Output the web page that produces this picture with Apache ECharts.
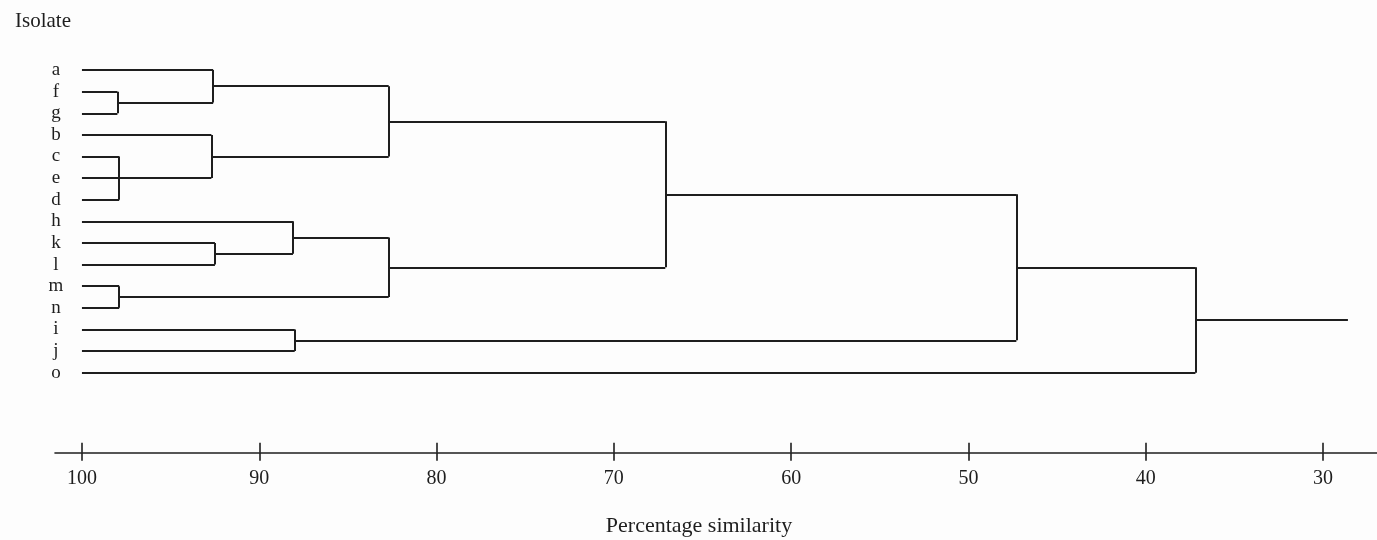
<!DOCTYPE html>
<html>
<head>
<meta charset="utf-8">
<title>Dendrogram of isolates</title>
<script src="https://cdn.jsdelivr.net/npm/echarts@6/dist/echarts.min.js"></script>
<style>
  html, body { margin: 0; padding: 0; background: #fdfdfd; }
  #chart { width: 1377px; height: 540px; }
</style>
</head>
<body>
<div id="chart"></div>
<script>
// Isolates in the order they appear down the tree
const leaves = ['a', 'f', 'g', 'b', 'c', 'e', 'd', 'h', 'k', 'l', 'm', 'n', 'i', 'j', 'o'];

// Cluster joins: name of the new cluster, its members, and the similarity (%) at which they join
const mergeNames    = ['fg', 'afg', 'ced', 'bced', 'top', 'kl', 'hkl', 'mn', 'bottom', 'core', 'ij', 'coreij', 'all'];
const mergeChildren = [
  ['f', 'g'], ['a', 'fg'], ['c', 'e', 'd'], ['b', 'ced'], ['afg', 'bced'],
  ['k', 'l'], ['h', 'kl'], ['m', 'n'], ['hkl', 'mn'], ['top', 'bottom'],
  ['i', 'j'], ['core', 'ij'], ['coreij', 'o']
];
const mergeLevels = [98.0, 92.6, 97.9, 92.7, 82.7, 92.5, 88.1, 97.9, 82.7, 67.1, 88.0, 47.3, 37.2];
const rootStem = 28.6;   // where the root branch ends

// Axis ticks
const tickValues = [100, 90, 80, 70, 60, 50, 40, 30];

// Build the tree segments
const nodeY = {};
const nodeLevel = {};
leaves.forEach((n, i) => { nodeY[n] = i; nodeLevel[n] = 100; });

const segments = [];
mergeNames.forEach((name, k) => {
  const kids = mergeChildren[k];
  const lvl = mergeLevels[k];
  const ys = kids.map(c => nodeY[c]);
  // horizontal branch from each member to the join
  kids.forEach(c => {
    segments.push({ coords: [[nodeLevel[c], nodeY[c]], [lvl, nodeY[c]]] });
  });
  // vertical connector
  segments.push({ coords: [[lvl, Math.min(...ys)], [lvl, Math.max(...ys)]] });
  nodeY[name] = ys.reduce((s, v) => s + v, 0) / ys.length;
  nodeLevel[name] = lvl;
});
const rootName = mergeNames[mergeNames.length - 1];
segments.push({ coords: [[nodeLevel[rootName], nodeY[rootName]], [rootStem, nodeY[rootName]]] });

const serif = '"Liberation Serif", "Times New Roman", serif';
const ink = '#1e1e1e';

const xRange = { min: 26.96, max: 101.52 };

const chart = echarts.init(document.getElementById('chart'), null, { renderer: 'canvas' });
chart.setOption({
  backgroundColor: '#fdfdfd',
  animation: false,
  title: [
    {
      text: 'Isolate', left: 10, top: 6,
      textStyle: { fontFamily: serif, fontSize: 21, fontWeight: 'normal', color: ink }
    },
    {
      text: 'Percentage similarity', left: 694, top: 510, textAlign: 'center',
      textStyle: { fontFamily: serif, fontSize: 22, fontWeight: 'normal', color: ink }
    }
  ],
  grid: { left: 55, right: 0, top: 48.4, bottom: 87.3, containLabel: false },
  xAxis: [
    {
      // main scale: baseline, lower half of the ticks, labels
      type: 'value', position: 'bottom', inverse: true,
      min: xRange.min, max: xRange.max,
      axisLine: { show: true, onZero: false, lineStyle: { color: ink, width: 1.6 } },
      axisTick: { show: true, inside: false, length: 8, customValues: tickValues, lineStyle: { color: ink, width: 1.6 } },
      axisLabel: {
        show: true, customValues: tickValues, margin: 16,
        fontFamily: serif, fontSize: 20, color: ink
      },
      splitLine: { show: false }
    },
    {
      // upper half of the ticks, so they cross the baseline
      type: 'value', position: 'bottom', inverse: true, offset: 0,
      min: xRange.min, max: xRange.max,
      axisLine: { show: false, onZero: false },
      axisTick: { show: true, inside: true, length: 10, customValues: tickValues, lineStyle: { color: ink, width: 1.6 } },
      axisLabel: { show: false },
      splitLine: { show: false }
    }
  ],
  yAxis: {
    type: 'value', inverse: true, min: -1, max: 17.7,
    axisLine: { show: false },
    axisTick: { show: false },
    splitLine: { show: false },
    axisLabel: {
      show: true,
      customValues: leaves.map((_, i) => i),
      formatter: v => leaves[v],
      align: 'center', margin: -1,
      fontFamily: serif, fontSize: 19, color: ink
    }
  },
  series: [
    {
      type: 'lines',
      coordinateSystem: 'cartesian2d',
      xAxisIndex: 0, yAxisIndex: 0,
      polyline: false,
      silent: true,
      lineStyle: { color: ink, width: 2, opacity: 1 },
      data: segments
    }
  ]
});
</script>
</body>
</html>
